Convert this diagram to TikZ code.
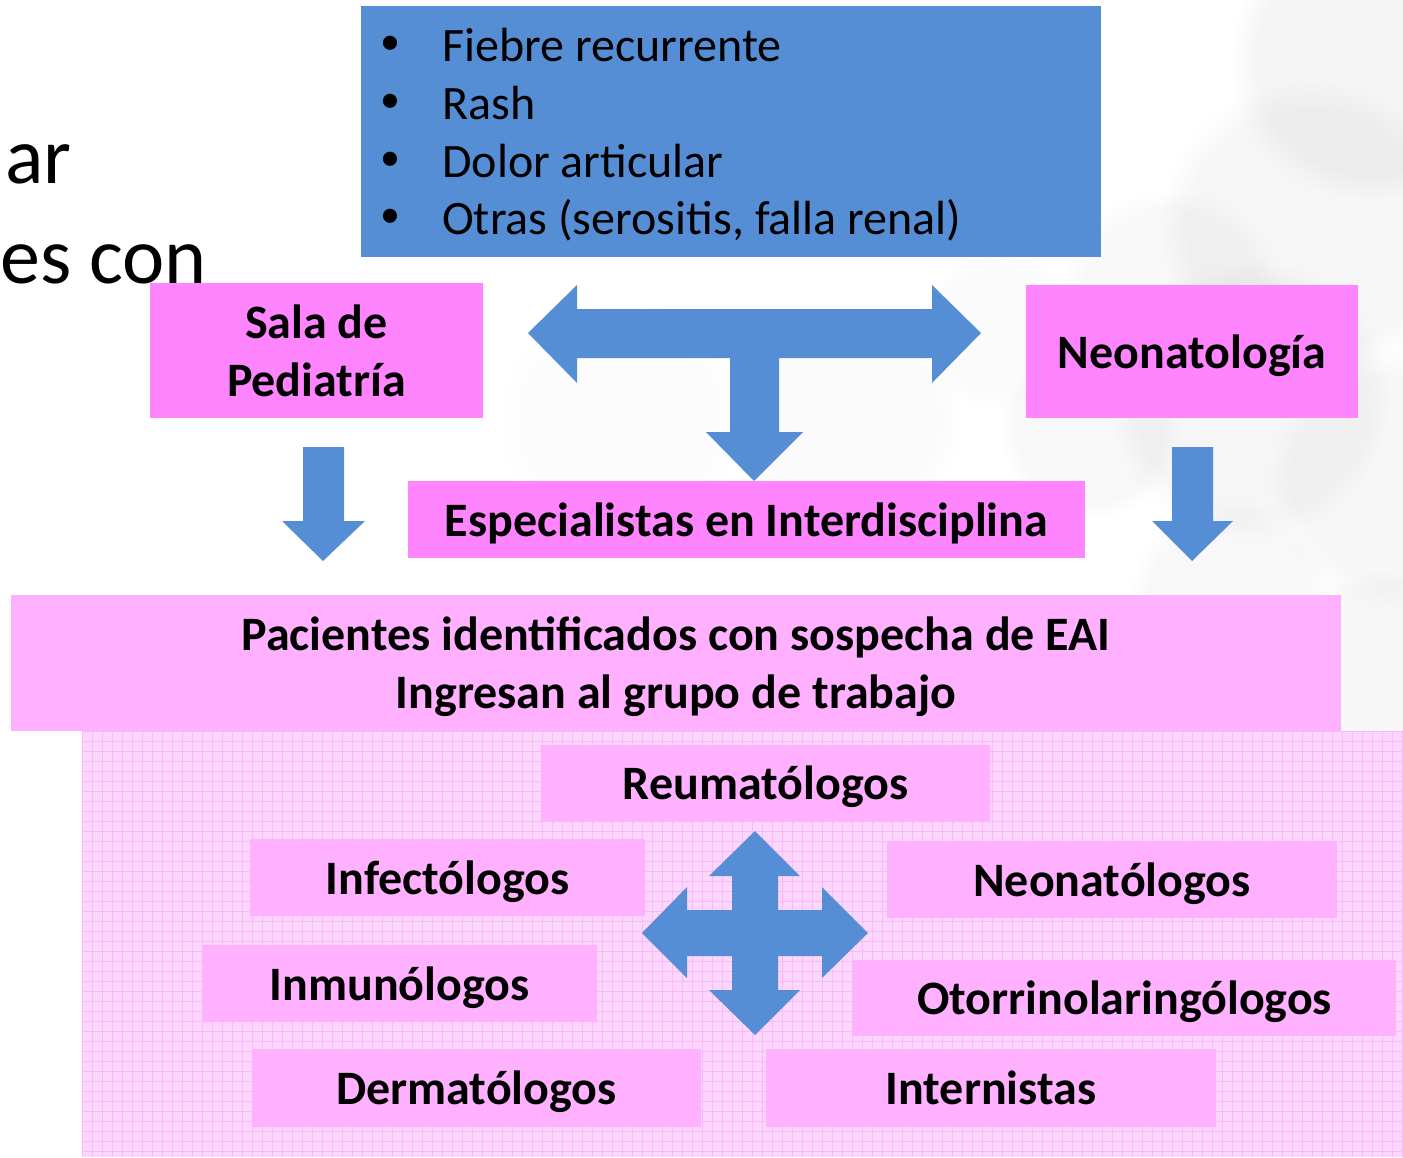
\documentclass[tikz,border=0pt]{standalone}
\usepackage{fontspec}
\setmainfont{Carlito}
\usetikzlibrary{fadings}
\definecolor{arrowblue}{HTML}{558ED5}
\definecolor{boxpink}{HTML}{FF85FF}
\definecolor{lightpink}{HTML}{FFB1FF}
\definecolor{gridbase}{HTML}{FCD6FC}
\definecolor{gridline}{HTML}{F9B9F9}
\definecolor{smoke}{HTML}{808080}
\begin{document}
\begin{tikzpicture}[x=1pt,y=-1pt,
  strongbox/.style={fill=boxpink, inner sep=0pt, align=center, font=\fontsize{48}{58}\selectfont\bfseries},
  softbox/.style={fill=lightpink, inner sep=0pt, align=center, font=\fontsize{48}{58}\selectfont\bfseries},
  oneline/.style={text height=40pt, text depth=7pt},
  bluebox/.style={fill=arrowblue, inner sep=0pt},
  bullettext/.style={anchor=base west, inner sep=0pt, font=\fontsize{48}{58}\selectfont},
  bulletdot/.style={anchor=center, inner sep=0pt, font=\fontsize{40}{48}\selectfont},
  titlefrag/.style={anchor=base east, inner sep=0pt, font=\fontsize{80}{100}\selectfont},
  blockarrow/.style={fill=arrowblue}]
\useasboundingbox (0,0) rectangle (1403,1157);
\fill[white] (0,0) rectangle (1403,1157);
% smoke
\begin{scope}
\clip (0,0) rectangle (1403,1157);
\foreach \cx/\cy/\r/\o in {1370/60/140/0.08, 1310/230/150/0.07, 1250/400/140/0.07, 1400/480/130/0.06, 1090/430/90/0.05, 1170/300/110/0.05, 1380/680/110/0.06, 1000/330/80/0.03, 1230/600/100/0.05, 620/420/120/0.02, 850/420/110/0.03}
  \fill[smoke, fill opacity=\o, path fading=circle with fuzzy edge 20 percent] (\cx,\cy) circle (\r);
\end{scope}
% title fragments
\node[titlefrag] (t1) at (72,183) {ar};
\node[titlefrag] (t2) at (207,283) {es con};
% grid area
\fill[gridbase] (82,731) rectangle (1403,1157);
\foreach \gx in {82,92,...,1402} \draw[gridline, line width=0.9pt] (\gx,731) -- (\gx,1157);
\foreach \gy in {731,741,...,1157} \draw[gridline, line width=0.9pt] (82,\gy) -- (1403,\gy);
% symptoms box
\node[bluebox, minimum width=740pt, minimum height=251pt] (sym) at (731,131.5) {};
\node[bulletdot] (d1) at (390,45) {•};
\node[bulletdot] (d2) at (390,103) {•};
\node[bulletdot] (d3) at (390,161) {•};
\node[bulletdot] (d4) at (390,218) {•};
\node[bullettext] (b1) at (442,61) {Fiebre recurrente};
\node[bullettext] (b2) at (442,119) {Rash};
\node[bullettext] (b3) at (442,177) {Dolor articular};
\node[bullettext] (b4) at (442,234) {Otras (serositis, falla renal)};
% upper boxes
\node[strongbox, minimum width=333pt, minimum height=135pt] (sala) at (316.5,350.5) {Sala de\\Pediatría};
\node[strongbox, oneline, minimum width=332pt, minimum height=133pt] (neo) at (1192,351.5) {Neonatología};
\node[strongbox, oneline, minimum width=677pt, minimum height=77pt] (esp) at (746.5,519.5) {Especialistas en Interdisciplina};
\node[softbox, text depth=0pt, minimum width=1330pt, minimum height=136pt] (pac) at (676,663) {Pacientes identificados con sospecha de EAI\\Ingresan al grupo de trabajo};
% lower boxes
\node[softbox, oneline, minimum width=449pt, minimum height=76pt] (reu) at (765.5,783) {Reumatólogos};
\node[softbox, oneline, minimum width=395pt, minimum height=77pt] (inf) at (447.5,877.5) {Infectólogos};
\node[softbox, oneline, minimum width=450pt, minimum height=77pt] (neol) at (1112,879.5) {Neonatólogos};
\node[softbox, oneline, minimum width=395pt, minimum height=77pt] (inm) at (399.5,983.5) {Inmunólogos};
\node[softbox, oneline, minimum width=543pt, minimum height=76pt] (oto) at (1124.5,998) {Otorrinolaringólogos};
\node[softbox, oneline, minimum width=449pt, minimum height=78pt] (der) at (476.5,1088) {Dermatólogos};
\node[softbox, oneline, minimum width=450pt, minimum height=78pt] (int) at (991,1088) {Internistas};
% block arrows
\fill[blockarrow] (528,333) -- (577,285) -- (577,309) -- (932,309) -- (932,285) -- (981,333) -- (932,383) -- (932,358) -- (779,358) -- (779,432) -- (803,432) -- (754,481) -- (706,432) -- (730,432) -- (730,358) -- (577,358) -- (577,383) -- cycle;
\fill[blockarrow] (303,447) -- (344,447) -- (344,521) -- (365,521) -- (323,561) -- (282,521) -- (303,521) -- cycle;
\fill[blockarrow] (1172,447) -- (1213,447) -- (1213,521) -- (1233,521) -- (1192,561) -- (1152,521) -- (1172,521) -- cycle;
\fill[blockarrow] (755,831) -- (800,876) -- (778,876) -- (778,910) -- (822,910) -- (822,887) -- (868,933) -- (822,978) -- (822,956) -- (778,956) -- (778,990) -- (800,990) -- (755,1035) -- (709,990) -- (732,990) -- (732,956) -- (687,956) -- (687,978) -- (642,933) -- (687,887) -- (687,910) -- (732,910) -- (732,876) -- (709,876) -- cycle;
\end{tikzpicture}
\end{document}
